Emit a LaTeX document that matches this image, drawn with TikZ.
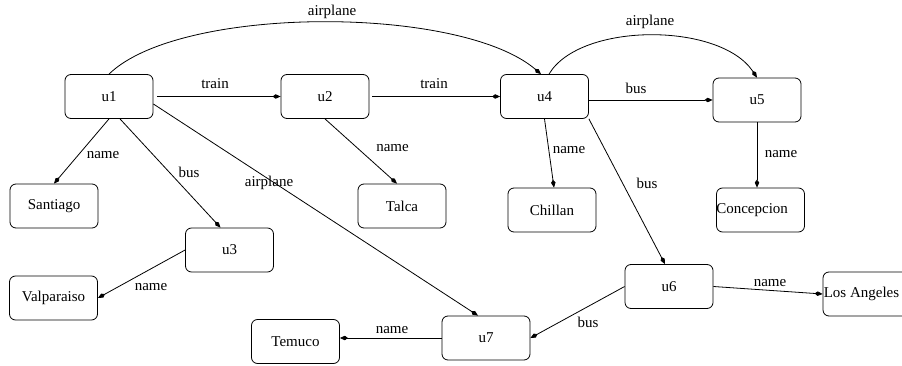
\documentclass[tikz,border=0pt]{standalone}
\usepackage{fontspec}
\setmainfont{Liberation Serif}
\usetikzlibrary{arrows.meta}
\begin{document}
\begin{tikzpicture}[x=1pt,y=-1pt,
  font=\fontsize{15}{18}\selectfont,
  box/.style={draw,rectangle,rounded corners=6pt,minimum width=88pt,minimum height=44pt,inner sep=0pt,line width=0.8pt},
  conn/.style={line width=0.8pt,-{Kite[length=8pt,width=4.5pt,inset=3pt]}},
  lbl/.style={inner sep=0pt}]
\useasboundingbox (0,0) rectangle (902,366);
% nodes
\node[box] (u1) at (109,96.5) {u1};
\node[box] (u2) at (325,96.5) {u2};
\node[box] (u4) at (544.5,96.5) {u4};
\node[box] (u5) at (757,100) {u5};
\node[box] (u3) at (229.5,250) {u3};
\node[box] (u6) at (669,286.5) {u6};
\node[box] (u7) at (486,338) {u7};
\node[box] (santiago) at (54,206) {Santiago};
\node[box] (talca) at (402,206) {Talca};
\node[box] (chillan) at (552,210) {Chillan};
\node[box] (concepcion) at (760.5,210) {};
\node[lbl,anchor=west] (concepciontxt) at (concepcion.west) {Concepcion};
\node[box] (valparaiso) at (53.5,298) {Valparaiso};
\node[box] (temuco) at (295.5,341.5) {Temuco};
\node[box] (losangeles) at (867,294) {};
\node[lbl,anchor=west] (losangelestxt) at ([xshift=1pt]losangeles.west) {Los Angeles};
% connectors
\draw[conn,shorten <=4pt] (u1.east) -- (u2.west) node[lbl] (l1) at (215,84) {train};
\draw[conn,shorten <=3pt] (u2.east) -- (u4.west) node[lbl] (l2) at (434,84) {train};
\draw[conn] (u1.north) .. controls (180,5) and (460,5) .. ([xshift=-3.5pt]u4.north) node[lbl] (l3) at (332,12) {airplane};
\draw[conn] (u1.south) -- (santiago.north) node[lbl] (l4) at (103,155) {name};
\draw[conn] ([xshift=11pt]u1.south) -- ([xshift=-9pt]u3.north) node[lbl] (l5) at (189,172) {bus};
\draw[conn] ([yshift=-7.5pt]u1.east) -- ([xshift=-8pt]u7.north) node[lbl] (l6) at (269,183) {airplane};
\draw[conn] (u2.south) -- ([xshift=-5pt]talca.north) node[lbl] (l7) at (392.5,148) {name};
\draw[conn] (u4.south) -- ([xshift=2pt]chillan.north) node[lbl] (l8) at (569,150) {name};
\draw[conn] ([xshift=4.5pt]u4.north) .. controls (580,22) and (720,22) .. (u5.north) node[lbl] (l9) at (650,22) {airplane};
\draw[conn] (u4.east |- u5.west) -- (u5.west) node[lbl] (l10) at (636,88) {bus};
\draw[conn] (u4.south east) -- ([xshift=-4pt]u6.north) node[lbl] (l11) at (647,183) {bus};
\draw[conn] (u5.south) -- (u5.south |- concepcion.north) node[lbl] (l12) at (781,154) {name};
\draw[conn] (u3.west) -- (valparaiso.east) node[lbl] (l13) at (151,287) {name};
\draw[conn] (u6.east) -- (losangeles.west) node[lbl] (l14) at (770,283) {name};
\draw[conn] (u6.west) -- (u7.east) node[lbl] (l15) at (588,322) {bus};
\draw[conn] (u7.west) -- (u7.west -| temuco.east) node[lbl] (l16) at (392,330) {name};
\end{tikzpicture}
\end{document}
